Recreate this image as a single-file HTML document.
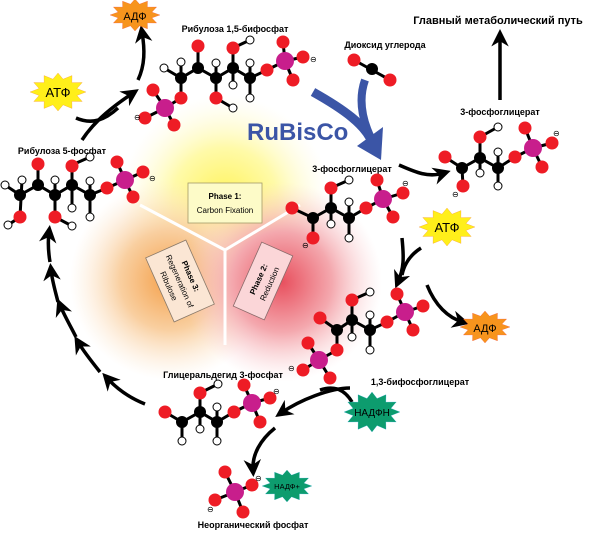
<!DOCTYPE html>
<html><head><meta charset="utf-8"><style>
html,body{margin:0;padding:0;background:#fff;}
svg{display:block;font-family:"Liberation Sans",sans-serif;}
.b{stroke:#000;stroke-width:3;fill:none}
.o{fill:#ee1c25}
.c{fill:#000}
.h{fill:#fff;stroke:#000;stroke-width:1}
.p{fill:#c81e8c}
.lbl{font-weight:bold;font-size:9px}
.m{font-size:8px}
.ar{stroke:#000;stroke-width:3.5;fill:none;marker-end:url(#ah)}
</style></head><body>
<svg width="600" height="550" viewBox="0 0 600 550">
<defs>
<marker id="ah" viewBox="0 0 10 10" refX="6" refY="5" markerWidth="5" markerHeight="5" orient="auto" markerUnits="strokeWidth">
<path d="M0,0 L10,5 L0,10 L3,5 z" fill="#000"/></marker>
<radialGradient id="gy"><stop offset="0" stop-color="#fff35a"/><stop offset="0.5" stop-color="#fffaa8"/><stop offset="1" stop-color="#fffbe0" stop-opacity="0"/></radialGradient>
<radialGradient id="go"><stop offset="0" stop-color="#f4a04a"/><stop offset="0.5" stop-color="#f9cfa0"/><stop offset="1" stop-color="#fde8d0" stop-opacity="0"/></radialGradient>
<radialGradient id="gr"><stop offset="0" stop-color="#e8505e"/><stop offset="0.5" stop-color="#f4a8ae"/><stop offset="1" stop-color="#fbd8da" stop-opacity="0"/></radialGradient>
<polygon id="star" points="100,0 67.6,18.1 86.6,50 49.5,49.5 50,86.6 18.1,67.6 0,100 -18.1,67.6 -50,86.6 -49.5,49.5 -86.6,50 -67.6,18.1 -100,0 -67.6,-18.1 -86.6,-50 -49.5,-49.5 -50,-86.6 -18.1,-67.6 0,-100 18.1,-67.6 50,-86.6 49.5,-49.5 86.6,-50 67.6,-18.1"/>
</defs>

<!-- center phases -->
<circle cx="225" cy="200" r="105" fill="url(#gy)"/>
<circle cx="170" cy="280" r="100" fill="url(#go)"/>
<circle cx="282" cy="282" r="100" fill="url(#gr)"/>
<path d="M225,250 L140,205 M225,250 L300,205 M225,250 L225,345" stroke="#fff" stroke-width="3"/>
<rect x="188" y="183" width="74" height="40" fill="#fdfbc8" stroke="#a39a6a" stroke-width="0.8"/>
<text x="225" y="199" font-size="8" font-weight="bold" text-anchor="middle">Phase 1:</text>
<text x="225" y="213" font-size="8" text-anchor="middle">Carbon Fixation</text>
<g transform="translate(180,281) rotate(66)">
<rect x="-35" y="-22" width="70" height="44" fill="#fbe6d4" stroke="#8a7a6a" stroke-width="0.8"/>
<text x="0" y="-9" font-size="8" font-weight="bold" text-anchor="middle">Phase 3:</text>
<text x="0" y="3" font-size="8" text-anchor="middle">Regeneration of</text>
<text x="0" y="15" font-size="8" text-anchor="middle">Ribulose</text></g>
<g transform="translate(263,281) rotate(-66)">
<rect x="-35" y="-17" width="70" height="34" fill="#fbd6d8" stroke="#8a6a6a" stroke-width="0.8"/>
<text x="0" y="-2" font-size="8" font-weight="bold" text-anchor="middle">Phase 2:</text>
<text x="0" y="10" font-size="8" text-anchor="middle">Reduction</text></g>

<!-- labels -->
<text class="lbl" x="235" y="32" text-anchor="middle">Рибулоза 1,5-бифосфат</text>
<text class="lbl" x="62" y="154" text-anchor="middle">Рибулоза 5-фосфат</text>
<text class="lbl" x="385" y="48" text-anchor="middle">Диоксид углерода</text>
<text x="498" y="24" font-size="11" font-weight="bold" text-anchor="middle">Главный метаболический путь</text>
<text class="lbl" x="500" y="115" text-anchor="middle">3-фосфоглицерат</text>
<text class="lbl" x="352" y="172" text-anchor="middle">3-фосфоглицерат</text>
<text class="lbl" x="420" y="385" text-anchor="middle">1,3-бифосфоглицерат</text>
<text class="lbl" x="223" y="378" text-anchor="middle">Глицеральдегид 3-фосфат</text>
<text class="lbl" x="253" y="528" text-anchor="middle">Неорганический фосфат</text>
<text x="247" y="140" font-size="24" font-weight="bold" fill="#3b55a6">RuBisCo</text>

<!-- blue arrow -->
<path d="M313,92 C345,110 365,125 372,142" stroke="#3b55a6" stroke-width="9" fill="none"/>
<path d="M365,80 C358,100 362,120 372,140" stroke="#3b55a6" stroke-width="8" fill="none"/>
<polygon points="357,146 383,127 381,160" fill="#3b55a6"/>

<!-- black arrows -->
<path class="ar" d="M500,100 L500,36"/>
<path class="ar" d="M399,165 C415,172 428,178 444,173"/>
<path class="ar" d="M402,238 C404,258 404,268 398,282"/>
<path d="M421,248 C410,255 404,265 402,275" stroke="#000" stroke-width="3.5" fill="none"/>
<path class="ar" d="M427,285 C435,305 448,318 463,322"/>
<path class="ar" d="M350,388 C330,388 300,400 281,413"/>
<path d="M352,402 C345,390 335,385 320,390" stroke="#000" stroke-width="3.5" fill="none"/>
<path class="ar" d="M275,428 C260,440 252,455 253,470"/>
<path class="ar" d="M82,140 C95,120 115,105 133,93"/>
<path d="M76,118 C92,125 105,120 118,108" stroke="#000" stroke-width="3.5" fill="none"/>
<path class="ar" d="M138,80 C145,65 145,50 142,32"/>
<path class="ar" d="M145,404 C130,398 118,390 107,378"/>
<path class="ar" d="M100,372 C92,362 84,352 78,342"/>
<path class="ar" d="M76,337 C70,325 64,315 60,305"/>
<path class="ar" d="M58,302 C55,290 52,280 51,270"/>
<path class="ar" d="M50,262 C48,250 48,240 49,232"/>

<!-- starbursts -->
<use href="#star" transform="translate(58,92) scale(0.28,0.19)" fill="#ffef1a" stroke="#f36b21" stroke-width="1" vector-effect="non-scaling-stroke"/>
<text x="58" y="97" font-size="13" text-anchor="middle">АТФ</text>
<use href="#star" transform="translate(135,15) scale(0.25,0.16)" fill="#f7941d" stroke="#ee1c25" stroke-width="1" vector-effect="non-scaling-stroke"/>
<text x="135" y="20" font-size="11" text-anchor="middle">АДФ</text>
<use href="#star" transform="translate(447,227) scale(0.28,0.19)" fill="#ffef1a" stroke="#f36b21" stroke-width="1" vector-effect="non-scaling-stroke"/>
<text x="447" y="232" font-size="13" text-anchor="middle">АТФ</text>
<use href="#star" transform="translate(485,327) scale(0.25,0.16)" fill="#f7941d" stroke="#ee1c25" stroke-width="1" vector-effect="non-scaling-stroke"/>
<text x="485" y="332" font-size="11" text-anchor="middle">АДФ</text>
<use href="#star" transform="translate(372,412) scale(0.28,0.2)" fill="#0d9c6e" stroke="#27aae1" stroke-width="1" vector-effect="non-scaling-stroke"/>
<text x="372" y="416" font-size="10" text-anchor="middle">НАДФН</text>
<use href="#star" transform="translate(287,486) scale(0.25,0.16)" fill="#0d9c6e" stroke="#27aae1" stroke-width="1" vector-effect="non-scaling-stroke"/>
<text x="287" y="489" font-size="7.5" text-anchor="middle">НАДФ+</text>

<!-- RuBP -->
<path class="b" d="M164,68 L181,78 L198,68 L216,78 L233,68 L250,78 L267,70 L285,61 M181,62 L181,98 M198,68 L198,48 M216,63 L216,98 L233,108 M233,48 L233,85 M233,48 L250,40 M250,63 L250,98 M181,98 L165,108 L153,90 M165,108 L145,118 M165,108 L174,125 M285,61 L283,42 M285,61 L303,57 M285,61 L293,80"/>
<circle class="h" cx="164" cy="68" r="4"/><circle class="h" cx="181" cy="62" r="4"/><circle class="h" cx="216" cy="63" r="4"/><circle class="h" cx="233" cy="85" r="4"/><circle class="h" cx="250" cy="40" r="4"/><circle class="h" cx="233" cy="108" r="4"/><circle class="h" cx="250" cy="63" r="4"/><circle class="h" cx="250" cy="98" r="4"/>
<circle class="c" cx="181" cy="78" r="6"/><circle class="c" cx="198" cy="68" r="6"/><circle class="c" cx="216" cy="78" r="6"/><circle class="c" cx="233" cy="68" r="6"/><circle class="c" cx="250" cy="78" r="6"/>
<circle class="o" cx="198" cy="46" r="6.5"/><circle class="o" cx="233" cy="48" r="6.5"/><circle class="o" cx="216" cy="98" r="6.5"/><circle class="o" cx="181" cy="98" r="6.5"/><circle class="o" cx="267" cy="70" r="6.5"/><circle class="o" cx="283" cy="42" r="6.5"/><circle class="o" cx="303" cy="57" r="6.5"/><circle class="o" cx="293" cy="80" r="6.5"/><circle class="o" cx="153" cy="90" r="6.5"/><circle class="o" cx="145" cy="118" r="6.5"/><circle class="o" cx="174" cy="125" r="6.5"/>
<circle class="p" cx="285" cy="61" r="9"/><circle class="p" cx="165" cy="108" r="9"/>
<text class="m" x="310" y="62">⊖</text><text class="m" x="134" y="120">⊖</text>

<!-- Ru5P -->
<path class="b" d="M5,185 L20,195 L38,185 L55,195 L72,185 L90,195 L107,188 L125,180 M22,180 L20,217 L8,225 M38,185 L38,165 M55,182 L55,217 L72,226 M72,185 L72,165 L90,157 M72,185 L72,208 M90,182 L90,217 M125,180 L117,162 M125,180 L143,172 M125,180 L133,197"/>
<circle class="h" cx="5" cy="185" r="4"/><circle class="h" cx="22" cy="180" r="4"/><circle class="h" cx="8" cy="225" r="4"/><circle class="h" cx="55" cy="180" r="4"/><circle class="h" cx="72" cy="226" r="4"/><circle class="h" cx="90" cy="157" r="4"/><circle class="h" cx="72" cy="208" r="4"/><circle class="h" cx="90" cy="181" r="4"/><circle class="h" cx="90" cy="217" r="4"/>
<circle class="c" cx="20" cy="195" r="6"/><circle class="c" cx="38" cy="185" r="6"/><circle class="c" cx="55" cy="195" r="6"/><circle class="c" cx="72" cy="185" r="6"/><circle class="c" cx="90" cy="195" r="6"/>
<circle class="o" cx="20" cy="217" r="6.5"/><circle class="o" cx="38" cy="164" r="6.5"/><circle class="o" cx="55" cy="217" r="6.5"/><circle class="o" cx="72" cy="166" r="6.5"/><circle class="o" cx="107" cy="188" r="6.5"/><circle class="o" cx="117" cy="162" r="6.5"/><circle class="o" cx="143" cy="172" r="6.5"/><circle class="o" cx="133" cy="197" r="6.5"/>
<circle class="p" cx="125" cy="180" r="9"/>
<text class="m" x="149" y="181">⊖</text>

<!-- CO2 -->
<path class="b" d="M354,60 L390,80"/>
<circle class="o" cx="354" cy="60" r="6.5"/><circle class="c" cx="372" cy="69" r="6"/><circle class="o" cx="390" cy="80" r="6.5"/>

<!-- 3PGA center -->
<path class="b" d="M292,208 L313,218 L331,208 L349,218 L366,208 L383,199 M313,218 L313,238 M331,188 L331,224 M331,188 L349,180 M349,202 L349,238 M383,199 L377,180 M383,199 L403,193 M383,199 L393,217"/>
<circle class="h" cx="349" cy="180" r="4"/><circle class="h" cx="331" cy="224" r="4"/><circle class="h" cx="349" cy="202" r="4"/><circle class="h" cx="349" cy="238" r="4"/>
<circle class="c" cx="313" cy="218" r="6"/><circle class="c" cx="331" cy="208" r="6"/><circle class="c" cx="349" cy="218" r="6"/>
<circle class="o" cx="292" cy="208" r="6.5"/><circle class="o" cx="313" cy="238" r="6.5"/><circle class="o" cx="331" cy="188" r="6.5"/><circle class="o" cx="366" cy="208" r="6.5"/><circle class="o" cx="377" cy="180" r="6.5"/><circle class="o" cx="403" cy="193" r="6.5"/><circle class="o" cx="393" cy="217" r="6.5"/>
<circle class="p" cx="383" cy="199" r="9"/>
<text class="m" x="402" y="186">⊖</text><text class="m" x="302" y="248">⊖</text>

<!-- 3PGA right -->
<path class="b" d="M445,157 L462,168 L480,158 L498,168 L515,157 L533,148 M462,168 L463,186 M480,137 L480,173 M480,137 L498,127 M498,152 L498,185 M533,148 L525,128 M533,148 L552,143 M533,148 L542,167"/>
<circle class="h" cx="498" cy="127" r="4"/><circle class="h" cx="480" cy="173" r="4"/><circle class="h" cx="498" cy="152" r="4"/><circle class="h" cx="498" cy="186" r="4"/>
<circle class="c" cx="462" cy="168" r="6"/><circle class="c" cx="480" cy="158" r="6"/><circle class="c" cx="498" cy="168" r="6"/>
<circle class="o" cx="445" cy="157" r="6.5"/><circle class="o" cx="463" cy="186" r="6.5"/><circle class="o" cx="480" cy="137" r="6.5"/><circle class="o" cx="515" cy="157" r="6.5"/><circle class="o" cx="525" cy="128" r="6.5"/><circle class="o" cx="552" cy="143" r="6.5"/><circle class="o" cx="542" cy="167" r="6.5"/>
<circle class="p" cx="533" cy="148" r="9"/>
<text class="m" x="553" y="136">⊖</text><text class="m" x="452" y="197">⊖</text>

<!-- 1,3BPG -->
<path class="b" d="M320,318 L337,330 L352,320 L370,330 L387,322 L405,312 M337,330 L337,350 L319,360 M352,300 L352,337 M352,300 L370,292 M370,315 L370,350 M405,312 L397,294 M405,312 L423,306 M405,312 L413,330 M319,360 L308,343 M319,360 L303,370 M319,360 L330,378"/>
<circle class="h" cx="370" cy="292" r="4"/><circle class="h" cx="352" cy="337" r="4"/><circle class="h" cx="370" cy="315" r="4"/><circle class="h" cx="370" cy="350" r="4"/>
<circle class="c" cx="337" cy="330" r="6"/><circle class="c" cx="352" cy="320" r="6"/><circle class="c" cx="370" cy="330" r="6"/>
<circle class="o" cx="320" cy="318" r="6.5"/><circle class="o" cx="337" cy="350" r="6.5"/><circle class="o" cx="352" cy="300" r="6.5"/><circle class="o" cx="387" cy="322" r="6.5"/><circle class="o" cx="397" cy="294" r="6.5"/><circle class="o" cx="423" cy="306" r="6.5"/><circle class="o" cx="413" cy="330" r="6.5"/><circle class="o" cx="308" cy="343" r="6.5"/><circle class="o" cx="303" cy="370" r="6.5"/><circle class="o" cx="330" cy="378" r="6.5"/>
<circle class="p" cx="405" cy="312" r="9"/><circle class="p" cx="319" cy="360" r="9"/>
<text class="m" x="288" y="371">⊖</text>

<!-- G3P -->
<path class="b" d="M165,412 L182,422 L200,412 L217,422 L234,412 L252,403 M182,422 L182,440 M200,393 L200,428 M200,393 L218,384 M217,407 L217,441 M252,403 L244,385 M252,403 L270,398 M252,403 L260,422"/>
<circle class="h" cx="182" cy="441" r="4"/><circle class="h" cx="218" cy="384" r="4"/><circle class="h" cx="200" cy="429" r="4"/><circle class="h" cx="217" cy="407" r="4"/><circle class="h" cx="217" cy="441" r="4"/>
<circle class="c" cx="182" cy="422" r="6"/><circle class="c" cx="200" cy="412" r="6"/><circle class="c" cx="217" cy="422" r="6"/>
<circle class="o" cx="165" cy="412" r="6.5"/><circle class="o" cx="200" cy="393" r="6.5"/><circle class="o" cx="234" cy="412" r="6.5"/><circle class="o" cx="244" cy="385" r="6.5"/><circle class="o" cx="270" cy="398" r="6.5"/><circle class="o" cx="260" cy="422" r="6.5"/>
<circle class="p" cx="252" cy="403" r="9"/>
<text class="m" x="273" y="394">⊖</text>

<!-- Pi -->
<path class="b" d="M235,492 L225,472 M235,492 L252,485 M235,492 L215,500 M235,492 L243,512"/>
<circle class="o" cx="225" cy="472" r="6.5"/><circle class="o" cx="252" cy="485" r="6.5"/><circle class="o" cx="215" cy="500" r="6.5"/><circle class="o" cx="243" cy="512" r="6.5"/>
<circle class="p" cx="235" cy="492" r="9"/>
<text class="m" x="255" y="481">⊖</text><text class="m" x="207" y="512">⊖</text>
</svg>
</body></html>
